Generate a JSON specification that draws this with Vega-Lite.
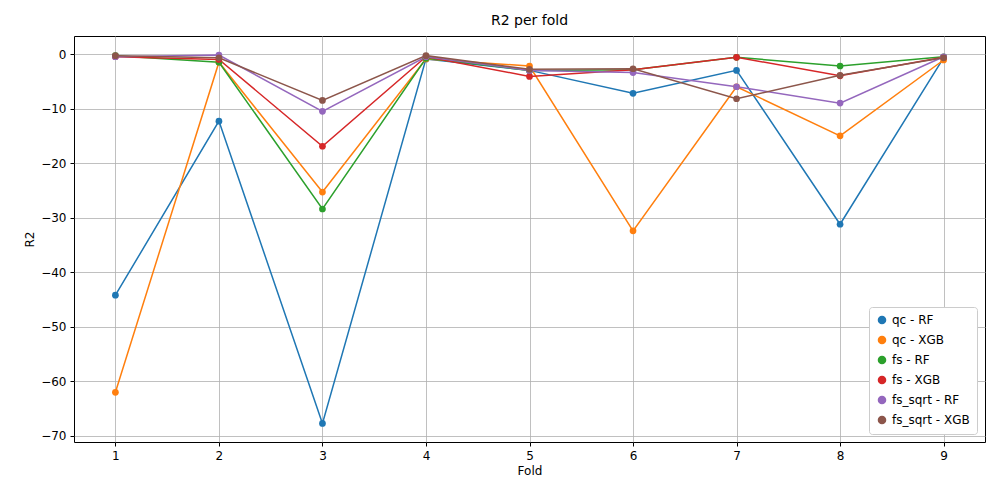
{
  "$schema": "https://vega.github.io/schema/vega-lite/v6.1.0.json",
  "autosize": "none",
  "width": 911,
  "height": 406,
  "padding": {"left": 74, "top": 36, "right": 15, "bottom": 58},
  "background": "white",
  "title": {"text": "R2 per fold", "fontSize": 14, "fontWeight": "normal", "font": "DejaVu Sans", "offset": 8},
  "data": {
    "values": [
      {"fold": 1, "model": "qc - RF", "r2": -44.2},
      {"fold": 2, "model": "qc - RF", "r2": -12.3},
      {"fold": 3, "model": "qc - RF", "r2": -67.7},
      {"fold": 4, "model": "qc - RF", "r2": -0.9},
      {"fold": 5, "model": "qc - RF", "r2": -3.0},
      {"fold": 6, "model": "qc - RF", "r2": -7.2},
      {"fold": 7, "model": "qc - RF", "r2": -3.0},
      {"fold": 8, "model": "qc - RF", "r2": -31.2},
      {"fold": 9, "model": "qc - RF", "r2": -0.7},
      {"fold": 1, "model": "qc - XGB", "r2": -62.0},
      {"fold": 2, "model": "qc - XGB", "r2": -1.5},
      {"fold": 3, "model": "qc - XGB", "r2": -25.3},
      {"fold": 4, "model": "qc - XGB", "r2": -0.9},
      {"fold": 5, "model": "qc - XGB", "r2": -2.2},
      {"fold": 6, "model": "qc - XGB", "r2": -32.4},
      {"fold": 7, "model": "qc - XGB", "r2": -6.0},
      {"fold": 8, "model": "qc - XGB", "r2": -15.0},
      {"fold": 9, "model": "qc - XGB", "r2": -1.1},
      {"fold": 1, "model": "fs - RF", "r2": -0.3},
      {"fold": 2, "model": "fs - RF", "r2": -1.5},
      {"fold": 3, "model": "fs - RF", "r2": -28.4},
      {"fold": 4, "model": "fs - RF", "r2": -0.8},
      {"fold": 5, "model": "fs - RF", "r2": -3.0},
      {"fold": 6, "model": "fs - RF", "r2": -2.9},
      {"fold": 7, "model": "fs - RF", "r2": -0.6},
      {"fold": 8, "model": "fs - RF", "r2": -2.2},
      {"fold": 9, "model": "fs - RF", "r2": -0.5},
      {"fold": 1, "model": "fs - XGB", "r2": -0.5},
      {"fold": 2, "model": "fs - XGB", "r2": -1.0},
      {"fold": 3, "model": "fs - XGB", "r2": -16.9},
      {"fold": 4, "model": "fs - XGB", "r2": -0.5},
      {"fold": 5, "model": "fs - XGB", "r2": -4.1},
      {"fold": 6, "model": "fs - XGB", "r2": -2.9},
      {"fold": 7, "model": "fs - XGB", "r2": -0.6},
      {"fold": 8, "model": "fs - XGB", "r2": -4.0},
      {"fold": 9, "model": "fs - XGB", "r2": -0.6},
      {"fold": 1, "model": "fs_sqrt - RF", "r2": -0.5},
      {"fold": 2, "model": "fs_sqrt - RF", "r2": -0.2},
      {"fold": 3, "model": "fs_sqrt - RF", "r2": -10.5},
      {"fold": 4, "model": "fs_sqrt - RF", "r2": -0.5},
      {"fold": 5, "model": "fs_sqrt - RF", "r2": -3.0},
      {"fold": 6, "model": "fs_sqrt - RF", "r2": -3.4},
      {"fold": 7, "model": "fs_sqrt - RF", "r2": -6.0},
      {"fold": 8, "model": "fs_sqrt - RF", "r2": -9.0},
      {"fold": 9, "model": "fs_sqrt - RF", "r2": -0.5},
      {"fold": 1, "model": "fs_sqrt - XGB", "r2": -0.3},
      {"fold": 2, "model": "fs_sqrt - XGB", "r2": -0.7},
      {"fold": 3, "model": "fs_sqrt - XGB", "r2": -8.5},
      {"fold": 4, "model": "fs_sqrt - XGB", "r2": -0.3},
      {"fold": 5, "model": "fs_sqrt - XGB", "r2": -2.8},
      {"fold": 6, "model": "fs_sqrt - XGB", "r2": -2.7},
      {"fold": 7, "model": "fs_sqrt - XGB", "r2": -8.2},
      {"fold": 8, "model": "fs_sqrt - XGB", "r2": -3.9},
      {"fold": 9, "model": "fs_sqrt - XGB", "r2": -0.7}
    ]
  },
  "mark": {"type": "line", "strokeWidth": 1.5, "point": {"filled": true, "size": 45, "opacity": 1}},
  "encoding": {
    "x": {
      "field": "fold", "type": "quantitative", "title": "Fold",
      "scale": {"domain": [0.6, 9.4], "nice": false, "zero": false},
      "axis": {"values": [1, 2, 3, 4, 5, 6, 7, 8, 9], "format": "d"}
    },
    "y": {
      "field": "r2", "type": "quantitative", "title": "R2",
      "scale": {"domain": [-71.1, 3.3], "nice": false, "zero": false},
      "axis": {"values": [-70, -60, -50, -40, -30, -20, -10, 0]}
    },
    "color": {
      "field": "model", "type": "nominal", "title": null,
      "sort": ["qc - RF", "qc - XGB", "fs - RF", "fs - XGB", "fs_sqrt - RF", "fs_sqrt - XGB"],
      "scale": {
        "domain": ["qc - RF", "qc - XGB", "fs - RF", "fs - XGB", "fs_sqrt - RF", "fs_sqrt - XGB"],
        "range": ["#1f77b4", "#ff7f0e", "#2ca02c", "#d62728", "#9467bd", "#8c564b"]
      },
      "legend": {
        "orient": "bottom-right", "offset": 8, "symbolType": "circle", "symbolSize": 50,
        "labelFontSize": 12, "labelFont": "DejaVu Sans", "rowPadding": 6,
        "fillColor": "white", "strokeColor": "#cccccc", "padding": 7, "cornerRadius": 3
      }
    }
  },
  "config": {
    "font": "DejaVu Sans",
    "view": {"stroke": "black", "strokeWidth": 1},
    "axis": {
      "grid": true, "gridColor": "#b0b0b0", "gridWidth": 0.8,
      "domain": false, "tickColor": "black", "tickSize": 4,
      "labelFontSize": 12, "labelColor": "black", "titleFontSize": 12,
      "titleFontWeight": "normal", "titleColor": "black", "labelPadding": 4
    }
  }
}
